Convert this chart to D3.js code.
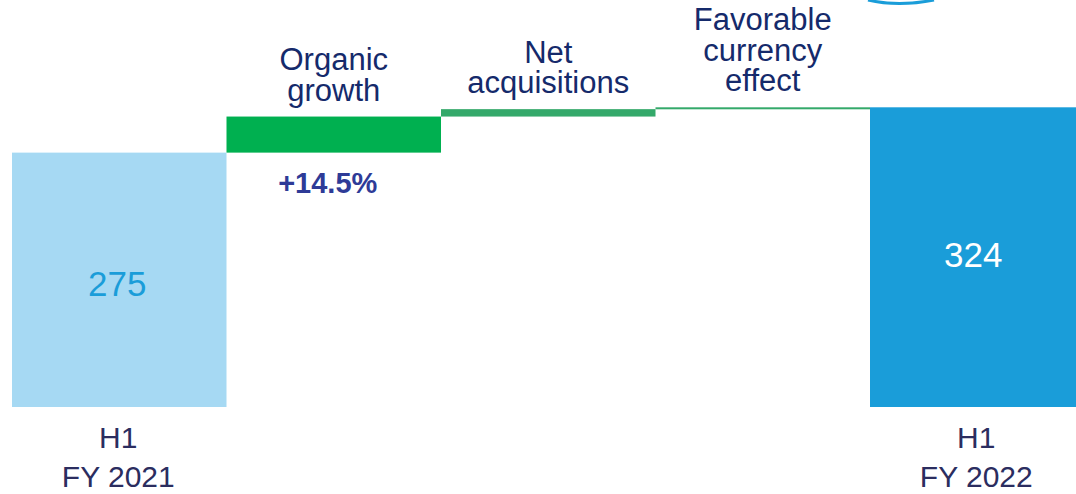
<!DOCTYPE html>
<html>
<head>
<meta charset="utf-8">
<script src="https://cdn.jsdelivr.net/npm/d3@7"></script>
<style>
  body { margin: 0; background: #fff; }
  svg { display: block; font-family: "Liberation Sans", Arial, sans-serif; }
</style>
</head>
<body>
<div id="graph-container"></div>
<script>
// chart data
var categories = ["H1 FY 2021", "Organic growth", "Net acquisitions", "Favorable currency effect", "H1 FY 2022"];
var topLabels = [[], ["Organic", "growth"], ["Net", "acquisitions"], ["Favorable", "currency", "effect"], []];
var bottomLabels = [["H1", "FY 2021"], [], [], [], ["H1", "FY 2022"]];
var startValue = 275;
var deltas = [39, 8, 2];
var endValue = 324;
var growthLabel = "+14.5%";

(function(){
  var svg, x, y, width, height;

  function setupd3Config() {
    width = 1076;
    height = 494;

    // one band per step, bars touch each other
    x = d3.scaleBand().domain(categories).range([12, 12 + 5 * 214.5]).padding(0);
    y = d3.scaleLinear().domain([0, 440]).range([407, 0]);

    svg = d3.select("#graph-container").append("svg")
      .attr("width", width)
      .attr("height", height);
  }

  function draw() {
    // build waterfall steps
    var steps = [];
    steps.push({cat: categories[0], from: 0, to: startValue, color: "#a6d9f3"});
    var run = startValue;
    var deltaColors = ["#00b050", "#34a96a", "#34a96a"];
    deltas.forEach(function(d, i) {
      steps.push({cat: categories[i + 1], from: run, to: run + d, color: deltaColors[i]});
      run += d;
    });
    steps.push({cat: categories[4], from: 0, to: endValue, color: "#1a9dd9"});

    svg.selectAll("rect.bar")
      .data(steps)
      .enter().append("rect")
      .attr("class", "bar")
      .attr("x", function(d) { return x(d.cat); })
      .attr("width", x.bandwidth())
      .attr("y", function(d) { return y(d.to); })
      .attr("height", function(d) { return Math.max(2, y(d.from) - y(d.to)); })
      .style("fill", function(d) { return d.color; });

    // value labels inside the total bars
    svg.append("text")
      .attr("x", x(categories[0]) + x.bandwidth() / 2 - 2)
      .attr("y", (y(0) + y(startValue)) / 2 + 16)
      .attr("text-anchor", "middle")
      .style("font-size", "35px")
      .style("fill", "#1a9dd9")
      .text(startValue);

    svg.append("text")
      .attr("x", x(categories[4]) + x.bandwidth() / 2 - 4)
      .attr("y", (y(0) + y(endValue)) / 2 + 10)
      .attr("text-anchor", "middle")
      .style("font-size", "35px")
      .style("fill", "#ffffff")
      .text(endValue);

    // growth percentage under organic bar
    svg.append("text")
      .attr("x", x(categories[1]) + x.bandwidth() / 2 - 6)
      .attr("y", y(startValue) + 40)
      .attr("text-anchor", "middle")
      .style("font-size", "29px")
      .style("font-weight", "bold")
      .style("fill", "#2e3b97")
      .text(growthLabel);

    // step labels above the bars
    steps.forEach(function(s, i) {
      var lines = topLabels[i];
      var n = lines.length;
      lines.forEach(function(line, j) {
        svg.append("text")
          .attr("x", x(s.cat) + x.bandwidth() / 2)
          .attr("y", y(s.to) - 16 - (n - 1 - j) * 30.5)
          .attr("text-anchor", "middle")
          .style("font-size", "31px")
          .style("fill", "#152a6b")
          .text(line);
      });
    });

    // category labels under the totals
    steps.forEach(function(s, i) {
      bottomLabels[i].forEach(function(line, j) {
        svg.append("text")
          .attr("x", x(s.cat) + x.bandwidth() / 2 - 1)
          .attr("y", y(0) + 41 + j * 39)
          .attr("text-anchor", "middle")
          .style("font-size", "30px")
          .style("fill", "#2b2d5f")
          .text(line);
      });
    });

    // decorative arc clipped at top edge
    var p = d3.path();
    p.moveTo(868, 0);
    p.quadraticCurveTo(898, 7, 934, 0);
    svg.append("path")
      .attr("d", p.toString())
      .style("fill", "none")
      .style("stroke", "#1a9dd9")
      .style("stroke-width", 3);
  }

  setupd3Config();
  draw();
})();
</script>
</body>
</html>
